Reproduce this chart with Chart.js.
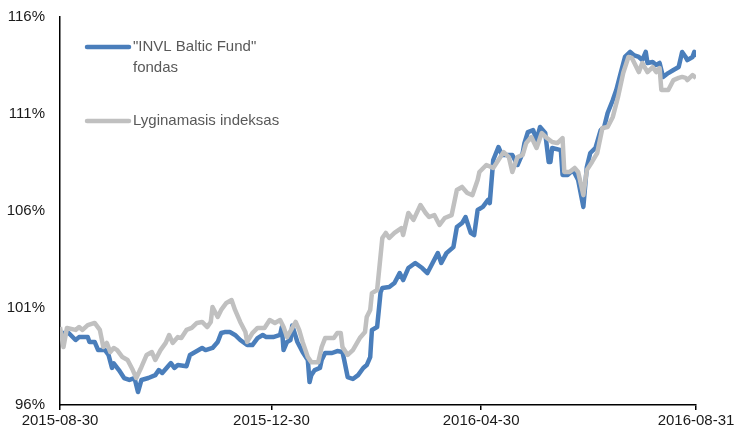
<!DOCTYPE html>
<html>
<head>
<meta charset="utf-8">
<script src="https://cdn.jsdelivr.net/npm/chart.js@4.4.1/dist/chart.umd.min.js"></script>
<style>
  html, body { margin: 0; padding: 0; background: #fff; }
  #wrap { width: 734px; height: 432px; }
</style>
</head>
<body>
<div id="wrap"><canvas id="myChart" width="734" height="432"></canvas></div>
<script>
// days counted from 2015-08-30
const tickDays = [0, 122, 243, 367];
const tickLabels = ['2015-08-30', '2015-12-30', '2016-04-30', '2016-08-31'];

const fundLabel = ['"INVL Baltic Fund"', 'fondas'];
const fundDays = [0, 5, 9, 11, 16, 17, 20, 22, 26, 28, 30, 31, 34, 37, 40, 43, 45, 47, 51, 55, 57, 59, 62, 64, 66, 68, 73, 75, 78, 82, 84, 88, 91, 93, 95,
  98, 101, 104, 108, 111, 114, 117, 119, 123, 127, 128, 129, 131, 133, 134, 137, 140, 143, 144, 145, 147, 150, 151, 153, 157, 160, 163, 164, 166, 169, 172, 175, 177, 179,
  180, 183, 185, 186, 190, 193, 196, 198, 201, 205, 209, 212, 215, 218, 220, 223, 227, 229, 232, 234, 237, 239, 241, 244, 247,
  248, 250, 253, 255, 261, 264, 267, 268, 270, 273, 275, 277, 280, 282, 283, 284, 289, 290, 293, 296, 299, 302, 304, 306, 309, 312, 314, 316, 319,
  321, 324, 326, 329, 331, 334, 336, 338, 339, 342, 344, 346, 348, 351, 354, 357, 359, 361, 362, 365, 366, 367];
const fundValues = [99.71, 99.71, 99.35, 99.5, 99.5, 99.25, 99.25, 98.83, 98.83, 98.58, 97.91, 98.15, 97.8, 97.39, 97.29, 97.39, 96.67, 97.29, 97.39, 97.54, 97.8, 97.65, 97.96, 98.16, 97.91, 98.06, 98.0, 98.58, 98.73, 98.94, 98.83, 98.94, 99.25, 99.71, 99.76,
  99.76, 99.61, 99.35, 99.09, 99.09, 99.45, 99.61, 99.5, 99.5, 99.61, 100.02, 98.83, 99.25, 99.35, 100.1, 99.25, 98.73, 98.32, 97.18, 97.54, 97.8, 97.91, 98.32, 98.68, 98.68, 98.78, 98.73, 98.32, 97.44, 97.34, 97.54, 97.91, 98.06, 98.47,
  99.87, 100.02, 101.82, 102.03, 102.08, 102.29, 102.8, 102.44, 103.06, 103.32, 103.06, 102.8, 103.32, 103.83, 103.32, 103.83, 104.14, 105.17, 105.38, 105.69, 104.87, 104.76, 106.05, 106.21, 106.57,
  106.41, 108.63, 109.3, 108.89, 108.89, 108.37, 108.99, 109.5, 110.07, 110.17, 109.66, 110.33, 110.02, 108.53, 108.53, 109.25, 109.14, 107.86, 107.86, 108.11, 107.6, 106.21, 108.27, 108.99, 109.25, 110.17, 110.33, 111.05, 111.72,
  112.24, 113.27, 113.94, 114.2, 114.04, 113.94, 113.78, 114.2, 113.63, 113.68, 113.53, 113.63, 112.91, 113.11, 113.27, 113.42, 114.2, 113.94, 113.78, 113.94, 114.2, 113.94];

const indexLabel = ['Lyginamasis indeksas'];
const indexDays = [0, 2, 4, 9, 11, 13, 16, 20, 23, 25, 27, 29, 31, 33, 36, 39, 42, 44, 47, 50, 53, 55, 58, 61, 63, 65, 68, 70, 73, 76, 79, 82, 85, 87, 88, 91, 93, 96, 99,
  101, 104, 107, 108, 111, 114, 118, 121, 124, 127, 129, 131, 136, 138, 140, 143, 145, 149, 151, 153, 158, 160, 162, 163, 166, 169, 173, 176, 177, 179,
  180, 183, 186, 188, 190, 193, 197, 198, 201, 204, 208, 211, 213, 216, 219, 222, 226, 229, 232, 235, 238, 241,
  242, 246, 250, 253, 256, 259, 261, 264, 267, 269, 272, 275, 278, 281, 284, 287, 290, 291, 294, 297, 299, 302, 304, 307, 310, 313, 316, 319,
  322, 325, 328, 330, 332, 334, 336, 339, 342, 344, 346, 347, 351, 354, 357, 359, 361, 362, 365, 367];
const indexValues = [100.02, 98.99, 99.97, 99.87, 100.02, 99.87, 100.12, 100.23, 99.87, 98.99, 99.2, 98.73, 98.94, 98.83, 98.47, 98.32, 97.8, 97.39, 97.96, 98.58, 98.73, 98.32, 98.83, 99.2, 99.61, 99.2, 99.5, 99.45, 99.87, 99.97, 100.23, 100.28, 100.02, 100.28, 101.05, 100.54, 100.9, 101.26, 101.41,
  100.9, 100.28, 99.76, 99.25, 99.71, 99.97, 99.97, 100.38, 100.23, 100.38, 100.02, 99.5, 100.28, 99.87, 99.25, 98.47, 98.21, 98.21, 98.99, 99.45, 99.45, 99.71, 99.71, 98.99, 98.58, 98.83, 99.45, 99.76, 100.54, 100.9,
  101.77, 101.93, 104.61, 104.87, 104.61, 104.87, 105.12, 104.76, 105.9, 105.54, 106.31, 105.9, 105.69, 105.79, 105.28, 105.64, 105.79, 107.08, 107.24, 106.93, 106.82, 107.6,
  108.01, 108.37, 108.22, 108.63, 109.04, 108.78, 108.01, 108.78, 108.89, 109.5, 109.81, 109.25, 110.02, 109.76, 109.56, 109.5, 109.76, 108.01, 108.01, 108.22, 108.01, 106.82, 108.11, 108.53, 108.99, 110.28, 110.33, 110.85,
  111.88, 113.11, 113.94, 113.89, 113.53, 113.16, 113.63, 113.16, 113.42, 113.16, 113.37, 112.24, 112.24, 112.75, 112.86, 112.91, 112.86, 112.75, 113.01, 112.86];

const blue = '#4A7EBB';
const grey = '#C0C0C0';

function toPoints(days, vals) {
  return days.map((d, i) => ({ x: d, y: vals[i] }));
}

// legend drawn inside the plot, top-left, with a two-line label
const insideLegend = {
  id: 'insideLegend',
  afterDraw(chart) {
    const ctx = chart.ctx;
    const area = chart.chartArea;
    const rows = [30, 104];
    ctx.save();
    ctx.font = '15px "Liberation Sans", Arial, sans-serif';
    ctx.textBaseline = 'middle';
    ctx.textAlign = 'left';
    chart.data.datasets.forEach((ds, i) => {
      const y = area.top + rows[i];
      ctx.strokeStyle = ds.borderColor;
      ctx.lineWidth = 4.5;
      ctx.lineCap = 'round';
      ctx.beginPath();
      ctx.moveTo(area.left + 27, y);
      ctx.lineTo(area.left + 69, y);
      ctx.stroke();
      ctx.fillStyle = '#595959';
      ds.legendText.forEach((t, j) => ctx.fillText(t, area.left + 73, y + j * 21));
    });
    ctx.restore();
  }
};

const ctx = document.getElementById('myChart').getContext('2d');
const chart = new Chart(ctx, {
  type: 'line',
  data: {
    datasets: [
      {
        label: fundLabel.join(' '),
        legendText: fundLabel,
        data: toPoints(fundDays, fundValues),
        borderColor: blue,
        borderWidth: 4.5,
        order: 1
      },
      {
        label: indexLabel.join(' '),
        legendText: indexLabel,
        data: toPoints(indexDays, indexValues),
        borderColor: grey,
        borderWidth: 4.5,
        order: 0
      }
    ]
  },
  options: {
    responsive: false,
    animation: false,
    layout: { padding: { left: 0, right: 38, top: 17, bottom: 0 } },
    elements: {
      point: { radius: 0 },
      line: { tension: 0, borderJoinStyle: 'round', fill: false }
    },
    plugins: {
      legend: { display: false },
      tooltip: { enabled: false }
    },
    scales: {
      x: {
        type: 'linear',
        min: 0,
        max: 367,
        afterBuildTicks: (axis) => { axis.ticks = tickDays.map(v => ({ value: v })); },
        afterFit: (axis) => { axis.height = 27; axis.paddingLeft = 0; axis.paddingRight = 0; },
        grid: { display: true, drawOnChartArea: false, drawTicks: true, tickLength: 5, color: '#000', lineWidth: 1.5 },
        border: { display: true, color: '#000', width: 1.5 },
        ticks: {
          autoSkip: false,
          maxRotation: 0,
          padding: 2,
          color: '#1a1a1a',
          font: { family: '"Liberation Sans", Arial, sans-serif', size: 15 },
          callback: (v) => tickLabels[tickDays.indexOf(v)]
        }
      },
      y: {
        min: 96,
        max: 116,
        afterFit: (axis) => { axis.width = 60; axis.paddingTop = 0; axis.paddingBottom = 0; },
        grid: { display: false, drawTicks: false },
        border: { display: true, color: '#000', width: 1.5 },
        ticks: {
          stepSize: 5,
          padding: 15,
          color: '#1a1a1a',
          font: { family: '"Liberation Sans", Arial, sans-serif', size: 15 },
          callback: (v) => v + '%'
        }
      }
    }
  },
  plugins: [insideLegend]
});
</script>
</body>
</html>
